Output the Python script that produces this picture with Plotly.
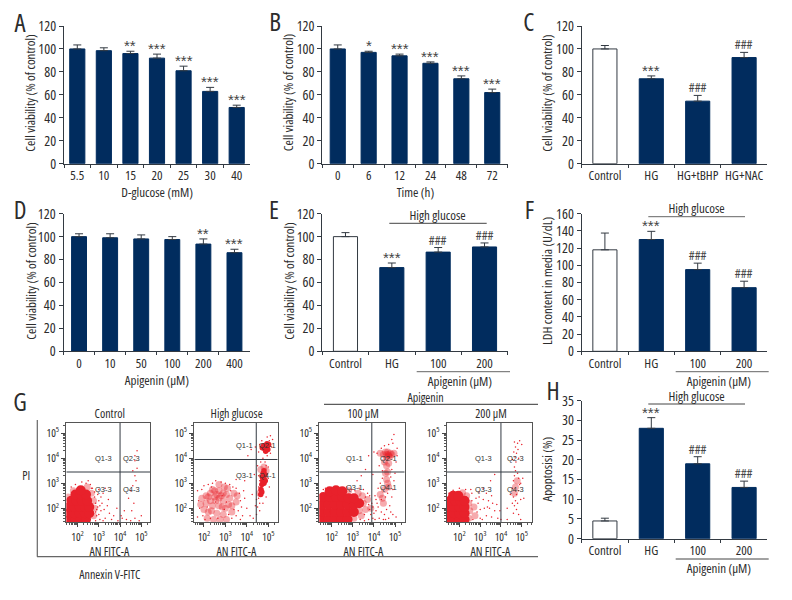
import math
import plotly.graph_objects as go

# ---------- bar panel data ----------
a_cats = ["5.5", "10", "15", "20", "25", "30", "40"]
a_vals = [100, 98.5, 96, 92, 81, 63, 49]
a_errs = [3.5, 2.5, 2, 3.5, 4, 3.5, 2]
a_marks = ["", "", "**", "***", "***", "***", "***"]

b_cats = ["0", "6", "12", "24", "48", "72"]
b_vals = [100, 97, 94, 87.5, 74, 62]
b_errs = [3.5, 1, 1.5, 1.2, 2.5, 3]
b_marks = ["", "*", "***", "***", "***", "***"]

c_cats = ["Control", "HG", "HG+tBHP", "HG+NAC"]
c_vals = [100, 74, 54.5, 92.5]
c_errs = [3, 2.5, 5, 4.5]
c_marks = ["", "***", "###", "###"]

d_cats = ["0", "10", "50", "100", "200", "400"]
d_vals = [100, 99, 98, 97.5, 93.5, 86]
d_errs = [2.5, 3.5, 3.5, 2.5, 4.5, 3]
d_marks = ["", "", "", "", "**", "***"]

e_cats = ["Control", "HG", "100", "200"]
e_vals = [100, 73, 86.5, 91]
e_errs = [3.5, 4, 4, 3.5]
e_marks = ["", "***", "###", "###"]

f_cats = ["Control", "HG", "100", "200"]
f_vals = [118, 130, 95, 74]
f_errs = [19.5, 9.5, 7.5, 7.5]
f_marks = ["", "***", "###", "###"]

h_cats = ["Control", "HG", "100", "200"]
h_vals = [4.5, 28, 19, 13]
h_errs = [0.7, 2.7, 1.8, 1.6]
h_marks = ["", "***", "###", "###"]

# ---------- flow cytometry data, read by eye (log10 units) ----------
ctrl_core = [(1.65,1.55),(1.9,1.55),(2.15,1.55),(2.4,1.55),(1.6,1.8),(1.85,1.8),(2.1,1.8),(2.35,1.8),(2.55,1.8),
             (1.6,2.05),(1.85,2.05),(2.1,2.05),(2.35,2.05),(2.55,2.05),(1.7,2.3),(1.95,2.3),(2.2,2.3),(2.45,2.3),
             (1.9,2.55),(2.15,2.55),(2.4,2.55),(2.15,2.72)]
ctrl_halo = [(2.75,1.7),(2.8,2.0),(2.75,2.3),(2.65,2.6),(2.45,2.85),(1.8,2.7),(1.55,2.45)]
ctrl_dots = [(2.8,2.45),(2.9,1.7),(3.0,2.3),(3.1,1.9),(3.2,2.6),(2.95,2.55),(3.3,1.6),(3.4,2.1),(3.5,1.8),(3.7,1.7),
             (3.9,1.5),(4.1,1.6),(4.3,1.55),(4.5,1.5),(4.7,1.6),(4.9,1.5),(2.7,2.8),(2.6,2.95),(2.4,3.0),(2.2,3.05),
             (1.9,2.95),(1.7,2.85),(3.05,1.55),(3.15,2.2),(2.95,2.05),(3.25,1.95),(3.45,2.35),(3.6,1.55),(3.3,2.8),
             (4.7,3.9),(4.8,3.6),(4.6,3.5),(4.7,3.3),(4.75,3.1),(4.6,2.9),(4.5,2.7),(4.4,2.4),(4.65,2.2),(4.8,4.3),
             (4.7,4.1),(4.2,1.9),(4.05,1.7),(3.85,2.0),(5.0,1.7),(4.55,1.9),(3.2,1.5),(2.85,1.5),(3.0,2.75),
             (2.85,2.2),(2.9,1.95),(3.05,2.1),(2.85,1.85),(3.0,1.75),(2.8,2.65),(3.1,2.45),(2.65,2.8),(2.5,3.1)]

hg_core = [(4.66,2.75),(4.7,2.95),(4.74,3.1),(4.8,3.0),(4.72,3.25),(4.8,3.2),(4.86,3.1),(4.76,3.4),(4.84,3.35),(4.8,3.5),
           (4.65,2.55),(4.7,2.65),
           (4.8,4.4),(4.88,4.38),(4.95,4.45),(4.78,4.5),(4.86,4.5),(4.94,4.58),(5.02,4.55),(4.88,4.28),(4.98,4.35),(4.72,4.42)]
hg_halo = [(2.3,2.6),(2.5,2.7),(2.7,2.7),(2.9,2.6),(2.5,2.45),(2.7,2.4),(2.9,2.3),(2.3,2.3),(2.1,2.2),(2.4,2.1),
           (2.7,2.1),(3.0,2.0),(3.2,2.4),(3.4,2.6),(3.1,2.8),(2.1,2.5),(2.6,1.8),(2.9,1.75),(2.2,1.85),(3.3,2.1),
           (1.9,2.4),(2.7,2.95),(2.45,1.55),(3.05,1.55),(3.5,2.25),(4.6,2.6),(4.65,3.55),(4.8,3.65),(4.9,3.5),
           (2.6,2.55),(2.4,2.75),(2.8,2.5),(2.55,2.3),(2.2,2.45),(3.05,2.55),(2.85,2.05),(2.35,1.9),(2.0,1.95),(3.15,2.15),
           (2.75,1.55),(2.15,1.6),(3.3,1.85),(1.85,2.15),(2.95,2.85),(3.55,2.5)]
hg_dots = [(1.7,2.7),(1.75,2.3),(1.8,2.0),(1.9,2.75),(1.95,1.7),(2.0,2.9),(2.05,1.55),(2.2,2.95),(2.3,1.6),(2.4,3.0),
           (2.55,3.1),(2.8,3.05),(3.0,3.0),(3.2,2.95),(3.35,2.85),(3.5,2.8),(3.65,2.6),(3.7,2.3),(3.75,2.05),(3.6,1.9),
           (3.5,1.7),(3.3,1.6),(3.15,1.75),(3.7,1.55),(3.85,2.7),(3.9,2.4),(4.0,2.0),(4.15,1.7),(4.3,1.6),(4.4,2.1),
           (4.45,2.35),(4.5,2.05),(4.55,2.4),(4.45,1.75),(4.6,1.9),(4.75,2.2),(4.9,2.45),(5.05,2.85),(5.0,3.2),(5.0,3.65),
           (4.55,3.3),(4.6,3.1),(4.85,3.85),(4.75,4.0),(4.95,4.1),(4.55,4.25),(4.4,4.45),(4.2,4.35),(4.05,4.1),(5.2,4.75),
           (5.15,4.45),(5.1,4.9),(4.95,4.85),(4.7,4.7),(3.9,3.1),(3.5,3.15),(2.15,2.05),(2.55,2.25),(2.85,2.5),(3.05,2.25),
           (3.25,2.7),(2.35,2.85),(2.65,1.6),(2.95,1.95),(1.7,1.65),(3.4,1.95),(3.8,1.7),(4.25,2.55),(4.35,3.35),(4.5,3.7),
           (5.1,4.2),(5.05,4.7),(4.6,4.55),(4.65,3.85),(4.9,3.7),(4.95,3.35),(4.55,2.85),(4.6,2.2)]

ap100_core = [(1.55,1.55),(1.85,1.55),(2.15,1.55),(2.45,1.55),(2.75,1.55),(1.55,1.85),(1.85,1.85),(2.15,1.85),(2.45,1.85),
              (2.75,1.85),(3.05,1.85),(1.55,2.15),(1.85,2.15),(2.15,2.15),(2.45,2.15),(2.75,2.15),(3.05,2.15),(3.3,2.2),
              (1.6,2.45),(1.9,2.45),(2.2,2.45),(2.5,2.45),(2.8,2.4),(3.05,2.4),(1.9,2.68),(2.2,2.72),(2.5,2.68)]
ap100_halo = [(3.3,1.9),(3.05,1.6),(3.5,2.2),(3.7,2.35),(3.45,2.5),(3.25,2.6),(3.4,1.7),(2.8,2.7),(3.6,1.95),(3.85,2.0),
              (4.3,4.2),(4.5,3.85),(4.7,3.8),(4.95,4.2),(4.65,3.45),(4.6,3.15),(4.5,2.75),(4.3,2.55),(4.45,2.2),(4.7,2.85),
              (4.6,4.15),(4.7,4.1),(4.78,4.2),(4.55,4.25),(4.65,4.25),(4.75,4.05),(4.85,4.15),(4.45,4.15),(4.68,4.15),(4.6,4.05),
              (4.6,3.7),(4.55,3.4),(4.65,3.0),(4.4,2.4)]
ap100_dots = [(1.6,2.75),(1.7,2.8),(2.7,2.85),(2.95,2.75),(3.1,2.7),(3.3,2.8),(3.5,2.75),(3.7,2.6),(3.8,2.5),(3.85,1.75),
              (3.75,1.55),(3.55,1.5),(3.95,1.6),(4.05,1.55),(4.1,1.9),(4.15,2.2),(4.05,2.5),(4.2,2.8),(4.3,3.0),(4.4,3.2),
              (4.35,1.85),(4.5,1.75),(4.6,1.95),(4.75,2.1),(4.85,2.45),(4.9,2.75),(4.95,3.1),(5.0,3.4),(4.85,3.55),(4.8,3.25),
              (4.25,1.6),(4.45,1.55),(4.7,1.6),(4.9,1.75),(5.05,3.85),(5.1,4.1),(5.1,4.4),(4.9,4.6),(4.85,4.75),(4.7,4.55),
              (4.5,4.5),(4.35,4.4),(4.15,4.2),(4.0,4.25),(3.75,4.1),(3.6,3.55),(3.4,3.3),(3.2,3.1),(3.95,3.35),(4.25,3.7),
              (4.4,3.5),(4.55,2.45),(4.35,2.35),(4.65,2.6),(4.2,2.05),(4.1,2.35),(4.8,1.85),(4.55,1.55),(5.05,1.65),(4.95,4.95),
              (3.75,2.15),(3.9,2.2),(3.6,2.45),(3.35,1.55),(3.55,1.75),(3.8,1.95),(3.95,2.05),(4.0,1.8)]

ap200_core = [(1.5,1.55),(1.75,1.55),(2.0,1.55),(2.25,1.55),(1.5,1.8),(1.75,1.8),(2.0,1.8),(2.25,1.8),(1.5,2.05),(1.75,2.05),
              (2.0,2.05),(2.25,2.05),(1.55,2.3),(1.8,2.3),(2.05,2.3),(2.25,2.3),(1.7,2.5),(1.95,2.5)]
ap200_halo = [(2.45,1.6),(2.5,1.9),(2.45,2.2),(2.35,2.5),(2.75,1.7),(2.7,2.05),(2.15,2.62),(4.7,2.85),(4.78,3.1),(4.65,2.6)]
ap200_dots = [(1.5,2.6),(1.7,2.72),(2.0,2.8),(2.3,2.75),(2.6,2.6),(2.8,2.4),(2.9,2.2),(3.0,1.95),(3.0,1.6),(3.15,2.35),
              (3.2,2.0),(3.3,1.7),(3.4,2.3),(3.45,2.0),(3.55,1.65),(3.6,2.2),(3.7,1.9),(3.8,2.15),(3.85,1.6),(3.95,1.9),
              (3.3,2.6),(3.55,2.5),(2.95,2.65),(3.15,2.8),(3.5,3.1),(3.7,3.35),(4.0,1.55),
              (4.55,2.2),(4.6,2.45),(4.65,2.1),(4.7,2.3),(4.75,2.55),(4.8,2.2),(4.85,2.7),(4.9,2.95),(4.55,2.8),(4.6,3.1),
              (4.65,3.3),(4.7,3.5),(4.8,3.4),(4.85,3.2),(4.95,3.0),(4.75,1.95),(4.6,1.8),(4.85,1.75),(4.95,2.35),(4.65,3.65),
              (4.72,3.85),(4.68,4.05),(4.75,4.2),(4.62,4.25),(4.82,4.35),(4.7,4.45),(4.8,4.6),(4.65,4.65),(4.9,4.7),(5.0,4.55),
              (4.85,4.0),(4.55,3.95),(5.05,3.2),(4.45,2.55),(4.3,2.0),(5.1,2.4),(4.95,1.55),(4.3,1.55),
              (2.6,2.3),(2.65,1.55),(2.85,1.85),(2.55,2.75),(3.1,1.55),(2.95,2.45),(3.35,2.05)]

NAVY = "#012c5e"
RED = "#e8212b"
DARK = "#333a42"
TXT = "#2c2c2c"
FONT = "Open Sans"
W, H = 792, 600


def px(x):
    return x / W


def py(y):
    return 1 - y / H


fig = go.Figure()
layout = {}
annotations = []
shapes = []
counter = [0]


def note(x, y, text, size=13, angle=0, family=FONT, color=TXT):
    annotations.append(dict(x=px(x), y=py(y), xref="paper", yref="paper", text=text, showarrow=False,
                            font=dict(family=family, size=size, color=color), textangle=angle,
                            xanchor="center", yanchor="middle"))


def line(x0, x1, y, color="#444444", width=1):
    shapes.append(dict(type="line", xref="paper", yref="paper", x0=px(x0), x1=px(x1), y0=py(y), y1=py(y),
                       line=dict(color=color, width=width)))


def new_axes():
    counter[0] += 1
    n = counter[0]
    return ("" if n == 1 else str(n)), n


def bar_panel(cats, vals, errs, marks, x0, x1, ytop, y0, ymax, dtick, width):
    s, _ = new_axes()
    xn, yn = "x" + s, "y" + s
    colors = ["white" if c == "Control" else NAVY for c in cats]
    lines = [DARK if c == "Control" else NAVY for c in cats]
    fig.add_trace(go.Bar(x=cats, y=vals, xaxis=xn, yaxis=yn, width=width, showlegend=False,
                         marker=dict(color=colors, line=dict(color=lines, width=1)),
                         error_y=dict(type="data", symmetric=False, array=errs, arrayminus=[0] * len(errs),
                                      color=DARK, thickness=1, width=4)))
    layout["xaxis" + s] = dict(domain=[px(x0), px(x1)], anchor=yn, type="category", range=[-0.5, len(cats) - 0.5],
                               automargin=False, tickson="boundaries", ticks="outside", ticklen=3, tickcolor=DARK,
                               showline=True, linecolor=DARK, linewidth=1, showgrid=False, zeroline=False,
                               tickfont=dict(family=FONT, size=13, color=TXT), tickangle=0)
    layout["yaxis" + s] = dict(domain=[py(y0), py(ytop)], anchor=xn, range=[0, ymax], dtick=dtick, ticks="outside",
                               automargin=False, ticklen=4, tickcolor=DARK, showline=True, linecolor=DARK, linewidth=1,
                               showgrid=False, zeroline=False, tickfont=dict(family=FONT, size=14, color=TXT))
    for i, (v, e, m) in enumerate(zip(vals, errs, marks)):
        if m:
            star = "*" in m
            annotations.append(dict(x=i, y=v + e, xref=xn, yref=yn, text=m, showarrow=False, yanchor="bottom",
                                    yshift=-5 if star else -3,
                                    font=dict(family="Liberation Sans" if star else FONT, size=15 if star else 13,
                                              color="#444444")))


def unzip(pairs):
    return [p[0] for p in pairs], [p[1] for p in pairs]


MINOR = [2, 3, 4, 5, 6, 7, 8, 9]


def flow_panel(core, halo, dots, x0, x1, xr, gx, gy, labels, label_pos, core_size=10):
    s, _ = new_axes()
    xn, yn = "x" + s, "y" + s
    for pts, size, op in ((halo, 7, 0.38), (core, core_size, 1.0), (dots, 1.5, 1.0)):
        xs, ys = unzip(pts)
        fig.add_trace(go.Scatter(x=xs, y=ys, xaxis=xn, yaxis=yn, mode="markers", showlegend=False,
                                 marker=dict(color=RED, size=size, opacity=op, line=dict(width=0))))
    yr = [1.44, 5.42]
    minor_x = [d + math.log10(m) for d in range(1, 6) for m in MINOR if xr[0] <= d + math.log10(m) <= xr[1]]
    minor_y = [d + math.log10(m) for d in range(1, 6) for m in MINOR if yr[0] <= d + math.log10(m) <= yr[1]]
    tl = ["10<sup>2</sup>", "10<sup>3</sup>", "10<sup>4</sup>", "10<sup>5</sup>"]
    common = dict(showline=True, mirror=True, linecolor="#555555", linewidth=1, showgrid=False, zeroline=False,
                  automargin=False, ticks="outside", ticklen=4, tickcolor="#444444", tickmode="array",
                  tickvals=[2, 3, 4, 5], ticktext=tl, tickfont=dict(family=FONT, size=11, color=TXT))
    layout["xaxis" + s] = dict(domain=[px(x0), px(x1)], anchor=yn, range=xr,
                               minor=dict(tickmode="array", tickvals=minor_x, ticks="outside", ticklen=2,
                                          tickcolor="#555555", showgrid=False), **common)
    layout["yaxis" + s] = dict(domain=[py(522.3), py(422.7)], anchor=xn, range=yr,
                               minor=dict(tickmode="array", tickvals=minor_y, ticks="outside", ticklen=2,
                                          tickcolor="#555555", showgrid=False), **common)
    shapes.append(dict(type="line", xref=xn, yref=yn, x0=gx, x1=gx, y0=yr[0], y1=yr[1], line=dict(color=DARK, width=1)))
    shapes.append(dict(type="line", xref=xn, yref=yn, x0=xr[0], x1=xr[1], y0=gy, y1=gy, line=dict(color=DARK, width=1)))
    for t, (lx, ly) in zip(labels, label_pos):
        annotations.append(dict(x=lx, y=ly, xref=xn, yref=yn, text=t, showarrow=False,
                                font=dict(family="Liberation Sans", size=7.5, color="#333333")))


# ---------- bars ----------
bar_panel(a_cats, a_vals, a_errs, a_marks, 64, 250, 26, 163.7, 120, 20, 0.57)
bar_panel(b_cats, b_vals, b_errs, b_marks, 322.3, 507.7, 26, 163.7, 120, 20, 0.49)
bar_panel(c_cats, c_vals, c_errs, c_marks, 581.7, 767.3, 26, 163.7, 120, 20, 0.52)
bar_panel(d_cats, d_vals, d_errs, d_marks, 63.5, 250, 213.7, 351.3, 120, 20, 0.48)
bar_panel(e_cats, e_vals, e_errs, e_marks, 322.3, 507.7, 213.7, 351.3, 120, 20, 0.52)
bar_panel(f_cats, f_vals, f_errs, f_marks, 581.7, 767.3, 213.7, 351.3, 160, 20, 0.52)
bar_panel(h_cats, h_vals, h_errs, h_marks, 581.7, 767.3, 400.7, 538.7, 35, 5, 0.52)

# ---------- flow panels ----------
flow_panel(ctrl_core, ctrl_halo, ctrl_dots, 66.3, 150, [1.47, 5.41], 4.0, 3.45,
           ["Q1-3", "Q2-3", "Q3-3", "Q4-3"], [(3.2, 4.0), (4.55, 4.0), (3.2, 2.75), (4.55, 2.75)])
flow_panel(hg_core, hg_halo, hg_dots, 194.3, 277.7, [1.55, 5.44], 4.44, 3.95,
           ["Q1-1", "Q2-1", "Q3-1", "Q4-1"], [(3.9, 4.5), (4.95, 4.5), (3.9, 3.3), (4.95, 3.3)], core_size=5.5)
flow_panel(ap100_core, ap100_halo, ap100_dots, 319.3, 404.7, [1.41, 5.46], 3.9, 3.45,
           ["Q1-1", "Q2-1", "Q3-1", "Q4-1"], [(3.1, 4.0), (4.7, 4.0), (3.1, 2.85), (4.7, 2.85)])
flow_panel(ap200_core, ap200_halo, ap200_dots, 446.7, 531.7, [1.39, 5.48], 4.0, 3.45,
           ["Q1-3", "Q2-3", "Q3-3", "Q4-3"], [(3.15, 4.0), (4.7, 4.0), (3.15, 2.75), (4.7, 2.75)])

# ---------- panel letters ----------
for letter, x, y in [("A", 20, 22), ("B", 275, 21), ("C", 529, 21), ("D", 20, 209), ("E", 274, 209),
                     ("F", 529, 209), ("G", 20, 401), ("H", 552.5, 390)]:
    note(x, y, letter, size=25)

# ---------- axis titles ----------
VIA = "Cell viability (% of control)"
for x, y in [(29.5, 93), (288, 93), (546.7, 93), (30, 281.5), (288, 281.5)]:
    note(x, y, VIA, size=13, angle=-90)
note(546.7, 281, "LDH content in media (U/dL)", size=13, angle=-90)
note(546.7, 469, "Apoptosisi (%)", size=13, angle=-90)
note(157.3, 192.5, "D-glucose (mM)")
note(415.7, 192.5, "Time (h)")
note(157.3, 380, "Apigenin (µM)")

# ---------- brackets ----------
note(437.7, 215, "High glucose")
line(389.3, 486.7, 223.3)
line(416.7, 510, 371.7, "#666666")
note(460, 381, "Apigenin (µM)")
note(696.7, 208.3, "High glucose")
line(648.3, 745, 216.7, "#666666")
line(675.7, 768.7, 371.7, "#666666")
note(718.7, 381, "Apigenin (µM)")
note(696.7, 396, "High glucose")
line(648.3, 745, 404)
line(675.7, 768.7, 559)
note(718.7, 567.7, "Apigenin (µM)")

# ---------- flow text ----------
for x, t in [(109.7, "Control"), (236.7, "High glucose"), (363.3, "100 µM"), (490.7, "200 µM")]:
    note(x, 413, t, size=12)
    note(x, 551, "AN FITC-A", size=12)
note(26.7, 475, "PI", size=12)
note(110, 574, "Annexin V-FITC", size=12)
note(425.7, 397, "Apigenin", size=12)
line(324, 538, 404.3, "#333333")
line(37, 538, 556.7, "#666666", 1.2)
shapes.append(dict(type="line", xref="paper", yref="paper", x0=px(37.3), x1=px(37.3), y0=py(420), y1=py(556.7),
                   line=dict(color="#666666", width=1.2)))

fig.update_layout(width=W, height=H, margin=dict(l=0, r=0, t=0, b=0), paper_bgcolor="white", plot_bgcolor="white",
                  annotations=annotations, shapes=shapes, showlegend=False, barmode="overlay", **layout)
POST = """
document.body.style.margin='0';
var st=document.createElement('style');
st.textContent="svg text{font-stretch:75% !important;}";
document.head.appendChild(st);
"""
fig.write_html("out.html", post_script=POST, config={"displayModeBar": False})
